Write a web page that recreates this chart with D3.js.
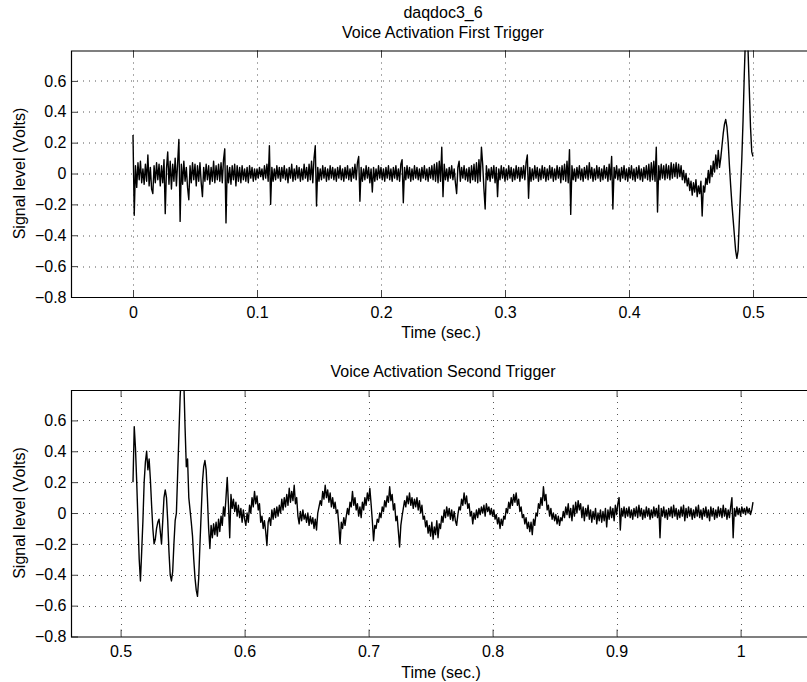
<!DOCTYPE html>
<html lang="en">
<head>
<meta charset="UTF-8">
<script src="https://cdn.jsdelivr.net/npm/d3@7"></script>
<title>daqdoc3_6</title>
<style>
  body { margin: 0; background: #fff; }
  text { font-family: "Liberation Sans", Arial, Helvetica, sans-serif; font-size: 16px; fill: #000; }
</style>
</head>
<body>
<svg id="chart" width="807" height="682"></svg>
<script>
// sampling of the two recorded segments (sec.)
var sampleStep = 0.001;
var firstStart = 0;
var secondStart = 0.51;

// first trigger, 0 .. 0.5 s (one row = 20 ms)
var firstTrigger = [
  0.25, -0.27, 0.05, -0.09, 0.07, -0.04, 0.08, -0.06, 0.03, -0.07, 0.06, -0.05, 0.12, -0.08, 0.04, -0.1, -0.13, 0.05, -0.06, 0.07,
  -0.04, 0.06, -0.08, 0.05, -0.06, 0.09, -0.26, 0.03, 0.14, -0.07, 0.08, -0.1, 0.06, -0.05, 0.1, -0.08, 0.07, 0.22, -0.31, 0.06,
  -0.07, 0.08, -0.05, 0.04, -0.09, -0.17, 0.05, -0.06, 0.07, -0.04, 0.06, -0.08, 0.05, -0.05, 0.07, -0.06, -0.15, 0.04, -0.05, 0.06,
  -0.04, 0.05, -0.07, 0.04, -0.05, 0.08, -0.06, 0.05, -0.04, 0.06, -0.05, 0.07, -0.06, 0.09, 0.16, -0.32, 0.05, -0.06, 0.04, -0.07,
  0.05, -0.04, 0.06, -0.08, 0.05, -0.05, 0.04, -0.06, 0.05, -0.04, 0.03, -0.05, 0.04, -0.06, 0.05, -0.03, 0.04, -0.05, 0.03, -0.04,
  0.03, -0.03, 0.04, -0.02, 0.03, -0.04, 0.05, -0.03, 0.06, -0.05, 0.18, -0.2, 0.04, -0.05, 0.03, -0.04, 0.05, -0.03, 0.04, -0.05,
  0.04, -0.03, 0.05, -0.04, 0.03, -0.06, 0.04, -0.03, 0.06, -0.05, 0.03, -0.04, 0.05, -0.03, 0.04, -0.05, 0.03, -0.04, 0.06, -0.03,
  0.04, -0.05, 0.06, -0.04, 0.08, -0.06, 0.1, 0.18, -0.21, 0.04, -0.05, 0.03, -0.04, 0.05, -0.03, 0.04, -0.05, 0.03, -0.04, 0.05,
  -0.03, 0.04, -0.04, 0.03, -0.05, 0.04, -0.03, 0.05, -0.04, 0.03, -0.05, 0.04, -0.03, 0.05, -0.04, 0.03, -0.05, 0.04, -0.03, 0.06,
  -0.04, 0.07, 0.11, -0.18, 0.04, -0.05, 0.03, -0.04, 0.05, -0.03, 0.04, -0.06, 0.03, -0.12, 0.04, -0.05, 0.03, -0.04, 0.05, -0.03,
  0.04, -0.04, 0.03, -0.05, 0.04, -0.03, 0.05, -0.04, 0.03, -0.05, 0.04, -0.03, 0.05, -0.04, 0.03, -0.05, 0.06, 0.09, -0.19, 0.04,
  -0.04, 0.05, -0.03, 0.04, -0.05, 0.03, -0.04, 0.05, -0.03, 0.04, -0.04, 0.03, -0.05, 0.04, -0.03, 0.05, -0.04, 0.03, -0.05, 0.04,
  -0.03, 0.05, -0.04, 0.06, -0.05, 0.07, -0.06, 0.08, -0.05, 0.17, -0.15, 0.06, -0.04, 0.03, -0.05, 0.04, -0.03, 0.05, -0.04, 0.03,
  -0.06, -0.13, 0.04, 0.08, -0.05, 0.04, -0.03, 0.05, -0.04, 0.03, -0.05, 0.04, -0.06, 0.05, -0.04, 0.06, -0.05, 0.07, -0.06, 0.09,
  -0.05, 0.17, 0.06, -0.1, -0.23, 0.05, -0.04, 0.03, -0.05, 0.04, -0.03, 0.05, -0.06, 0.04, -0.15, 0.03, -0.04, 0.05, -0.03, 0.04,
  -0.05, 0.03, -0.04, 0.05, -0.03, 0.04, -0.05, 0.03, -0.04, 0.05, -0.03, 0.04, -0.05, 0.04, -0.03, 0.05, -0.04, 0.07, 0.12, -0.16,
  0.04, -0.05, 0.03, -0.04, 0.05, -0.03, 0.04, -0.05, 0.03, -0.04, 0.05, -0.03, 0.04, -0.05, 0.03, -0.04, 0.05, -0.03, 0.04, -0.05,
  0.03, -0.04, 0.05, -0.03, 0.04, -0.06, 0.05, -0.04, 0.06, -0.05, 0.08, -0.06, 0.155, -0.265, 0.05, -0.04, 0.03, -0.05, 0.04, -0.03,
  0.05, -0.04, 0.03, -0.05, 0.04, -0.03, 0.05, -0.04, 0.07, -0.03, 0.04, -0.05, 0.03, -0.04, 0.05, -0.03, 0.04, -0.05, 0.03, -0.04,
  0.05, -0.03, 0.04, -0.05, 0.06, -0.04, 0.11, -0.23, 0.04, -0.03, 0.05, -0.04, 0.03, -0.05, 0.04, -0.03, 0.05, -0.04, 0.03, -0.05,
  0.04, -0.03, 0.05, -0.04, 0.03, -0.05, 0.04, -0.03, 0.05, -0.04, 0.03, -0.05, 0.04, -0.03, 0.05, -0.04, 0.06, -0.05, 0.07, -0.04,
  0.08, -0.05, 0.17, -0.25, 0.05, -0.04, 0.06, -0.03, 0.05, -0.04, 0.06, -0.03, 0.05, -0.04, 0.07, -0.03, 0.06, -0.02, 0.07, -0.03,
  0.06, -0.02, 0.05, -0.04, 0.02, -0.06, 0.0, -0.08, -0.03, -0.11, -0.05, -0.14, -0.06, -0.12, -0.04, -0.15, -0.08, -0.13, -0.05, -0.275,
  -0.08, -0.12, -0.03, -0.07, 0.02, -0.06, 0.05, -0.02, 0.08, 0.01, 0.12, 0.03, 0.15, 0.04, 0.1, 0.18, 0.26, 0.32, 0.35, 0.3,
  0.2, 0.05, -0.08, -0.2, -0.3, -0.4, -0.5, -0.55, -0.5, -0.3, -0.1, 0.1, 0.35, 0.65, 0.9, 0.95, 0.8, 0.55, 0.3, 0.14,
  0.11
];

// second trigger, 0.51 .. 1.01 s (one row = 20 ms)
var secondTrigger = [
  0.2, 0.56, 0.42, 0.2, -0.05, -0.3, -0.44, -0.25, -0.05, 0.2, 0.33, 0.4, 0.28, 0.35, 0.22, 0.05, -0.1, -0.2, -0.17, -0.1,
  -0.06, -0.04, -0.12, -0.2, -0.05, 0.1, 0.15, 0.1, -0.05, -0.25, -0.4, -0.44, -0.38, -0.2, -0.05, 0.0, 0.25, 0.5, 0.75, 0.9,
  0.95, 0.85, 0.55, 0.3, 0.35, 0.1, 0.02, -0.06, -0.15, -0.3, -0.42, -0.5, -0.54, -0.42, -0.2, 0.0, 0.2, 0.3, 0.34, 0.28,
  0.1, -0.1, -0.23, -0.08, -0.16, -0.07, -0.14, -0.06, -0.15, -0.04, -0.12, -0.02, -0.08, 0.04, -0.02, 0.1, 0.23, 0.05, -0.16, 0.12,
  0.03, 0.09, 0.01, 0.07, -0.02, 0.05, -0.03, 0.03, -0.06, 0.02, -0.04, -0.08, 0.0, -0.06, 0.05, 0.0, 0.1, 0.04, 0.14, 0.06,
  0.11, 0.02, 0.06, -0.06, -0.02, -0.1, -0.05, -0.12, -0.21, -0.06, -0.03, -0.08, 0.02, -0.04, 0.03, -0.03, 0.04, -0.02, 0.05, 0.0,
  0.09, 0.02, 0.1, 0.04, 0.12, 0.05, 0.16, 0.07, 0.14, 0.08, 0.18, 0.06, 0.1, -0.02, -0.07, 0.01, -0.05, 0.02, -0.04, -0.01,
  -0.06, 0.0, -0.08, -0.02, -0.07, -0.03, -0.1, -0.04, -0.11, 0.0, 0.04, 0.08, 0.05, 0.14, 0.09, 0.18, 0.1, 0.15, 0.07, 0.13,
  0.04, 0.1, 0.03, 0.07, 0.0, 0.02, -0.08, -0.2, -0.06, -0.1, -0.03, -0.08, -0.02, 0.03, -0.01, 0.07, 0.04, 0.14, 0.05, 0.1,
  0.02, 0.06, -0.02, 0.04, -0.03, 0.07, 0.02, 0.1, 0.05, 0.13, 0.08, 0.16, 0.06, -0.05, -0.18, -0.08, -0.1, -0.04, -0.06, 0.0,
  -0.03, 0.04, 0.01, 0.08, 0.04, 0.11, 0.07, 0.17, 0.08, 0.12, 0.02, 0.06, -0.05, -0.02, -0.12, -0.22, -0.08, -0.02, 0.03, 0.08,
  0.04, 0.11, 0.06, 0.13, 0.05, 0.1, 0.03, 0.09, 0.04, 0.1, 0.02, 0.08, 0.0, 0.05, -0.04, -0.02, -0.09, -0.05, -0.13, -0.08,
  -0.15, -0.06, -0.17, -0.09, -0.14, -0.05, -0.16, -0.07, -0.1, -0.02, -0.06, 0.02, -0.03, 0.04, -0.02, 0.03, -0.04, 0.02, -0.05, 0.01,
  -0.05, -0.08, -0.01, 0.04, 0.02, 0.09, 0.05, 0.13, 0.06, 0.11, 0.03, 0.06, -0.02, 0.01, -0.07, 0.0, -0.04, 0.02, -0.03, 0.03,
  -0.01, 0.04, 0.0, 0.05, -0.02, 0.06, 0.01, 0.04, -0.01, 0.03, -0.02, 0.02, -0.04, -0.01, -0.07, -0.03, -0.1, -0.04, -0.08, -0.02,
  -0.04, 0.03, 0.0, 0.07, 0.03, 0.1, 0.05, 0.12, 0.07, 0.13, 0.05, 0.09, 0.01, 0.04, -0.03, -0.01, -0.07, -0.03, -0.1, -0.06,
  -0.12, -0.06, -0.14, -0.04, -0.08, 0.0, -0.02, 0.06, 0.03, 0.1, 0.05, 0.17, 0.08, 0.12, 0.02, 0.05, -0.02, 0.03, -0.04, 0.0,
  -0.05, -0.01, -0.07, -0.02, -0.08, -0.03, -0.05, 0.01, -0.03, 0.04, -0.01, 0.06, -0.03, 0.03, -0.05, 0.05, -0.02, 0.07, 0.0, 0.08,
  0.02, 0.06, -0.03, 0.04, -0.05, 0.03, -0.02, 0.05, -0.04, 0.02, -0.06, 0.01, -0.04, 0.03, -0.07, 0.0, -0.05, 0.02, -0.06, 0.01,
  -0.05, 0.03, -0.09, 0.02, -0.04, 0.04, -0.03, 0.03, -0.05, 0.05, -0.01, 0.06, 0.1, -0.11, 0.03, -0.02, 0.04, -0.03, 0.03, -0.02,
  0.04, -0.03, 0.02, -0.04, 0.03, -0.02, 0.04, -0.03, 0.05, -0.02, 0.03, -0.04, 0.02, -0.03, 0.04, -0.02, 0.03, -0.04, 0.02, -0.03,
  0.04, -0.02, 0.03, -0.03, 0.05, -0.16, 0.03, -0.02, 0.04, -0.03, 0.02, -0.04, 0.03, -0.02, 0.04, -0.03, 0.05, -0.02, 0.03, -0.04,
  0.02, -0.03, 0.04, -0.02, 0.05, -0.05, 0.03, -0.03, 0.04, -0.02, 0.03, -0.04, 0.02, -0.03, 0.04, -0.02, 0.05, -0.03, 0.02, -0.04,
  0.03, -0.02, 0.04, -0.03, 0.02, -0.05, 0.04, -0.02, 0.03, -0.04, 0.02, -0.03, 0.04, -0.02, 0.03, -0.03, 0.05, -0.02, 0.03, -0.04,
  0.02, -0.03, 0.04, 0.1, -0.16, 0.03, -0.02, 0.04, -0.01, 0.03, -0.02, 0.04, 0.0, 0.03, -0.01, 0.04, 0.0, 0.03, -0.01, 0.02,
  0.07
];

var firstXTicks = [0, 0.1, 0.2, 0.3, 0.4, 0.5];
var secondXTicks = [0.5, 0.6, 0.7, 0.8, 0.9, 1];
var yTicks = [-0.8, -0.6, -0.4, -0.2, 0, 0.2, 0.4, 0.6];

var svg = d3.select("#chart");
var W = 744, H = 246.5, left = 71;

function fmt(d) {
  var s = d3.format("~g")(Math.abs(d));
  return d < 0 ? "\u2212" + s : s;
}

var panels = [
  { id: "p1", titles: ["daqdoc3_6", "Voice Activation First Trigger"], top: 50.5,
    xDomain: [-0.05, 0.55], xTicks: firstXTicks, values: firstTrigger, start: firstStart },
  { id: "p2", titles: ["Voice Activation Second Trigger"], top: 390,
    xDomain: [0.46, 1.06], xTicks: secondXTicks, values: secondTrigger, start: secondStart }
];

panels.forEach(function(p) {
  var x = d3.scaleLinear().domain(p.xDomain).range([0, W]);
  var y = d3.scaleLinear().domain([-0.8, 0.797]).range([H, 0]);
  var g = svg.append("g").attr("transform", "translate(" + left + "," + p.top + ")");

  g.append("clipPath").attr("id", "clip-" + p.id)
    .append("rect").attr("width", W).attr("height", H);

  // dotted grid
  g.selectAll(".hgrid").data(yTicks.filter(function(d) { return d > -0.8; }))
    .enter().append("line")
    .attr("x1", 0).attr("x2", W)
    .attr("y1", function(d) { return Math.round(y(d)) + 0.5; })
    .attr("y2", function(d) { return Math.round(y(d)) + 0.5; })
    .attr("stroke", "#555").attr("stroke-dasharray", "1,5");
  g.selectAll(".vgrid").data(p.xTicks)
    .enter().append("line")
    .attr("y1", 0).attr("y2", H)
    .attr("x1", function(d) { return Math.round(x(d)) + 0.5; })
    .attr("x2", function(d) { return Math.round(x(d)) + 0.5; })
    .attr("stroke", "#555").attr("stroke-dasharray", "1,5");

  // signal
  var line = d3.line()
    .x(function(d, i) { return x(p.start + i * sampleStep); })
    .y(function(d) { return y(d); });
  g.append("path").datum(p.values)
    .attr("clip-path", "url(#clip-" + p.id + ")")
    .attr("d", line)
    .attr("fill", "none").attr("stroke", "#000").attr("stroke-width", 1.4)
    .attr("stroke-linejoin", "round");

  // axes (ticks point inward)
  var xb = g.append("g").attr("transform", "translate(0," + H + ")")
    .call(d3.axisBottom(x).tickValues(p.xTicks).tickSize(-7).tickPadding(9.5).tickFormat(fmt));
  var xt = g.append("g")
    .call(d3.axisTop(x).tickValues(p.xTicks).tickSize(-7).tickFormat(""));
  var yl = g.append("g")
    .call(d3.axisLeft(y).tickValues(yTicks).tickSize(-7).tickPadding(4.5).tickFormat(fmt));
  [xb, xt, yl].forEach(function(a) {
    a.select(".domain").remove();
    a.selectAll(".tick line").attr("stroke", "#444");
    a.selectAll("text").attr("font-family", null).attr("font-size", null);
  });

  // box edges (right edge lies outside the picture)
  g.append("path")
    .attr("d", "M" + (W + 10) + ",0.5H0.5V" + (H + 0.5) + "H" + (W + 10))
    .attr("fill", "none").attr("stroke", "#000").attr("stroke-width", 1.2);

  // titles and labels
  var tt = g.append("text").attr("text-anchor", "middle").attr("x", W / 2);
  if (p.titles.length === 2) {
    tt.attr("y", -32.5).text(p.titles[0]);
    g.append("text").attr("text-anchor", "middle").attr("x", W / 2).attr("y", -12.5).text(p.titles[1]);
  } else {
    tt.attr("y", -13).text(p.titles[0]);
  }
  g.append("text").attr("text-anchor", "middle").attr("x", W / 2 - 2).attr("y", H + 41)
    .text("Time (sec.)");
  g.append("text").attr("text-anchor", "middle")
    .attr("transform", "translate(" + (25 - left) + "," + y(0) + ") rotate(-90)")
    .text("Signal level (Volts)");
});
</script>
</body>
</html>
